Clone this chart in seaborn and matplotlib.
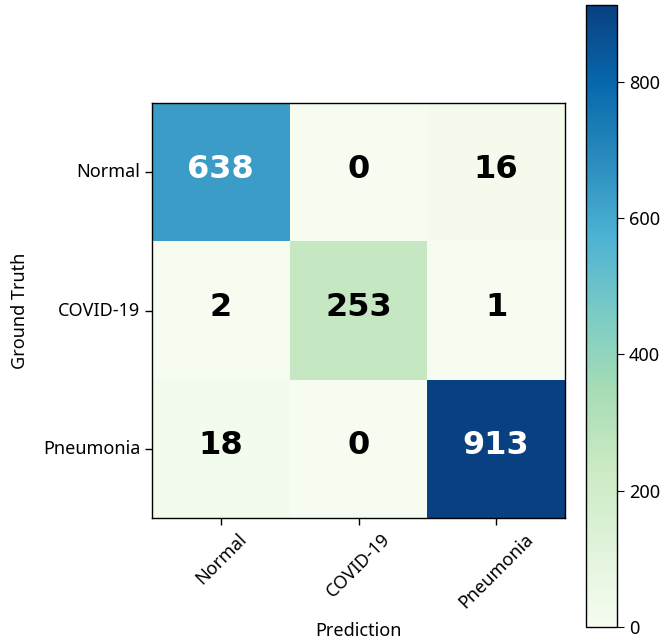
import numpy as np
import pandas as pd
import seaborn as sns
import matplotlib.pyplot as plt

plt.rcParams['font.family'] = ['Noto Sans', 'DejaVu Sans']

# Confusion matrix values
classes = ['Normal', 'COVID-19', 'Pneumonia']
counts = [[638, 0, 16],
          [2, 253, 1],
          [18, 0, 913]]
cbar_ticks = [0, 200, 400, 600, 800]

cm = pd.DataFrame(counts, index=classes, columns=classes)

fig = plt.figure(figsize=(6.66, 6.42), dpi=100)
ax = fig.add_axes([152 / 666, 124 / 642, 413 / 666, 415 / 642])
cax = fig.add_axes([586 / 666, 15 / 642, 31 / 666, 622 / 642])

sns.heatmap(cm, ax=ax, cbar_ax=cax, cmap='GnBu', vmin=0, vmax=cm.values.max(),
            annot=True, fmt='d',
            annot_kws={'fontsize': 23, 'fontweight': 'bold', 'family': 'DejaVu Sans'},
            square=False, linewidths=0)

# white text on dark cells, black elsewhere; text sits a little above centre
thresh = cm.values.max() / 2
for t, v in zip(ax.texts, cm.values.flatten()):
    t.set_color('white' if v > thresh else 'black')
    t.set_va('baseline')
    x, y = t.get_position()
    t.set_position((x, y + 0.04))

for s in ax.spines.values():
    s.set_visible(True)
    s.set_linewidth(1.0)
    s.set_color('black')

ax.set_xticklabels(classes, rotation=45, ha='center', fontsize=13)
ax.set_yticklabels(classes, rotation=0, fontsize=13)
ax.tick_params(length=5, width=1, colors='black')
ax.set_xlabel('Prediction', fontsize=13, labelpad=8)
ax.set_ylabel('Ground Truth', fontsize=13, labelpad=10)

cax.set_yticks(cbar_ticks)
cax.tick_params(labelsize=13, length=5)
cb = ax.collections[0].colorbar
cb.outline.set_visible(True)
cb.outline.set_linewidth(1.0)
cb.outline.set_edgecolor('black')

fig.savefig('out.png', dpi=100)
